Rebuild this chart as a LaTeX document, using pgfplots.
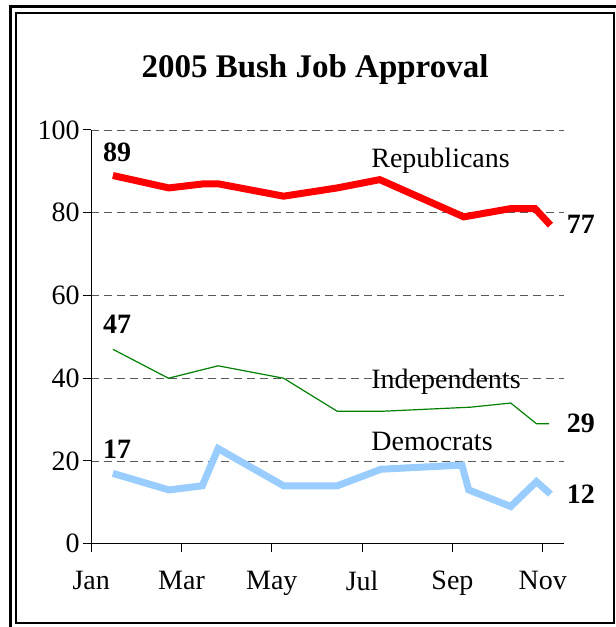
\documentclass[border=0pt]{standalone}
\usepackage{fontspec}
\setmainfont{Liberation Serif}
\usepackage{pgfplots}
\pgfplotsset{compat=1.18}
\definecolor{repred}{RGB}{255,0,0}
\definecolor{indgreen}{RGB}{0,128,0}
\definecolor{demblue}{RGB}{153,204,255}
\begin{document}
\begin{tikzpicture}
\useasboundingbox (0pt,0pt) rectangle (616pt,627pt);
% double frame
\draw[line width=3pt] (10.5pt,620pt) rectangle (621pt,-4pt);
\draw[line width=2.2pt] (15.7pt,614pt) rectangle (613.8pt,4.3pt);
% title
\node[anchor=base,font=\bfseries\fontsize{33}{38}\selectfont] at (315pt,549pt) {2005 Bush Job Approval};
\begin{axis}[
  at={(91.2pt,83.3pt)}, anchor=south west,
  scale only axis, width=472.8pt, height=413.7pt,
  xmin=0, xmax=10.47, ymin=0, ymax=100,
  axis x line*=bottom, axis y line*=left,
  axis line style={line width=1pt, black},
  xtick={0,2,4,6,8,10},
  xticklabels={Jan,Mar,May,Jul,Sep,Nov},
  ytick={0,20,40,60,80,100},
  tick align=outside, major tick length=8pt,
  tick style={black, line width=1pt},
  ymajorgrids,
  major grid style={dashed, black!65, line width=0.9pt, dash pattern=on 8pt off 5pt},
  /pgf/number format/assume math mode=true,
  ticklabel style={font=\fontsize{28}{32}\selectfont},
  xticklabel style={yshift=-16pt},
  clip=false,
]
\addplot[repred, line width=7pt] coordinates {
 (0.48,89) (1.72,86) (2.5,87) (2.81,87) (4.26,84) (5.45,86) (6.39,88) (8.25,79) (9.29,81) (9.83,81) (10.17,77)};
\addplot[indgreen, line width=1.2pt] coordinates {
 (0.48,47) (1.71,40) (2.81,43) (4.26,40) (5.45,32) (6.42,32) (8.40,33) (9.29,34) (9.86,29) (10.14,29)};
\addplot[demblue, line width=7pt] coordinates {
 (0.48,17) (1.72,13) (2.46,14) (2.81,23) (4.26,14) (5.45,14) (6.42,18) (8.21,19) (8.36,13) (9.29,9) (9.86,15) (10.17,12)};
\begin{scope}[every node/.style={anchor=base west, inner sep=0pt, font=\fontsize{28}{32}\selectfont}]
\node at (axis cs:6.2,90.9) {Republicans};
\node at (axis cs:6.2,37.6) {Independents};
\node at (axis cs:6.2,22.5) {Democrats};
\end{scope}
\begin{scope}[every node/.style={anchor=base west, inner sep=0pt, font=\bfseries\fontsize{28}{32}\selectfont}]
\node at (axis cs:0.26,92.4) {89};
\node at (axis cs:0.26,50.7) {47};
\node at (axis cs:0.26,20.5) {17};
\node at (axis cs:10.53,74.9) {77};
\node at (axis cs:10.53,26.8) {29};
\node at (axis cs:10.53,9.6) {12};
\end{scope}
\end{axis}
\end{tikzpicture}
\end{document}
